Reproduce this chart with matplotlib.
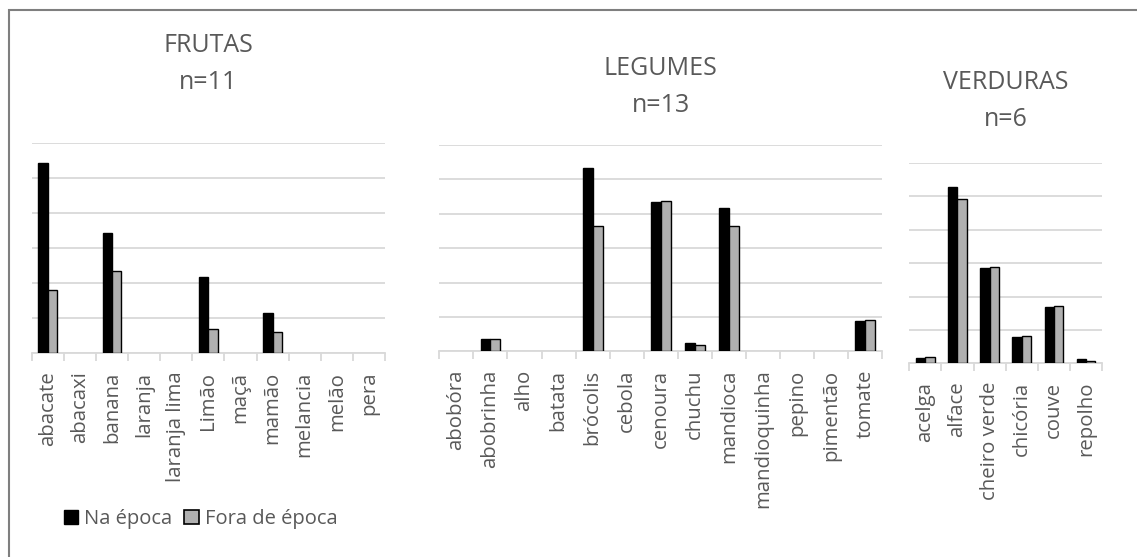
import numpy as np
import matplotlib.pyplot as plt
from matplotlib.patches import Rectangle, Patch

plt.rcParams['font.family'] = ['Open Sans', 'DejaVu Sans']

# dados (escala em % aproximada)
frutas = ["abacate", "abacaxi", "banana", "laranja", "laranja lima", "Limão",
          "maçã", "mamão", "melancia", "melão", "pera"]
frutas_na = [54.3, 0, 34.3, 0, 0, 21.7, 0, 11.5, 0, 0, 0]
frutas_fora = [18.0, 0, 23.6, 0, 0, 7.0, 0, 6.2, 0, 0, 0]

legumes = ["abobóra", "abobrinha", "alho", "batata", "brócolis", "cebola",
           "cenoura", "chuchu", "mandioca", "mandioquinha", "pepino",
           "pimentão", "tomate"]
legumes_na = [0, 3.5, 0, 0, 53.2, 0, 43.5, 2.5, 41.7, 0, 0, 0, 8.9]
legumes_fora = [0, 3.7, 0, 0, 36.3, 0, 43.7, 1.8, 36.4, 0, 0, 0, 9.1]

verduras = ["acelga", "alface", "cheiro verde", "chicória", "couve", "repolho"]
verduras_na = [1.7, 52.8, 28.6, 8.0, 16.9, 1.2]
verduras_fora = [2.0, 49.2, 28.9, 8.2, 17.1, 0.8]

TXT = "#595959"
GRID = "#D9D9D9"
GRAY = "#B0B0B0"

fig = plt.figure(figsize=(11.37, 5.57), dpi=100)

# moldura do grafico
fig.add_artist(Rectangle((9 / 1137, -0.2), 1.3, 1.2 - 10 / 557,
                         transform=fig.transFigure, fill=False,
                         edgecolor="#7F7F7F", linewidth=1.5))

# titulo, categorias, series, posicao do eixo, centro vertical do titulo (px)
paineis = [
    ("FRUTAS\nn=11", frutas, frutas_na, frutas_fora, [0.0279, 0.3657, 0.3107, 0.3776], 64),
    ("LEGUMES\nn=13", legumes, legumes_na, legumes_fora, [0.3864, 0.3693, 0.3896, 0.3704], 87),
    ("VERDURAS\nn=6", verduras, verduras_na, verduras_fora, [0.7997, 0.3477, 0.1697, 0.3596], 101),
]

w = 0.29
for titulo, cats, na, fora, pos, ty in paineis:
    ax = fig.add_axes(pos)
    x = np.arange(len(cats))
    ax.bar(x - w / 2, na, w, color="black", edgecolor="black",
           linewidth=[1 if v > 0 else 0 for v in na], zorder=3)
    ax.bar(x + w / 2, fora, w, color=GRAY, edgecolor="black",
           linewidth=[1 if v > 0 else 0 for v in fora], zorder=3)
    ax.set_xlim(-0.5, len(cats) - 0.5)
    ax.set_ylim(0, 60)
    ax.set_yticks(np.arange(0, 61, 10))
    ax.yaxis.grid(True, color=GRID, linewidth=1.3, zorder=0)
    ax.tick_params(axis="y", left=False, labelleft=False)
    ax.set_xticks(x)
    ax.set_xticklabels(cats, rotation=90, color=TXT, fontsize=14.7)
    ax.set_xticks(np.arange(-0.5, len(cats)), minor=True)
    ax.tick_params(axis="x", which="major", length=0, pad=13.2)
    ax.tick_params(axis="x", which="minor", length=5.8, color=GRID, width=1.3)
    for s in ["top", "right", "left"]:
        ax.spines[s].set_visible(False)
    ax.spines["bottom"].set_color(GRID)
    ax.spines["bottom"].set_linewidth(1.3)
    ax.set_facecolor("none")
    cx = pos[0] + pos[2] / 2
    fig.text(cx, 1 - ty / 557, titulo, ha="center", va="center", color=TXT,
             fontsize=18, linespacing=1.6, multialignment="center")

handles = [Patch(facecolor="black", edgecolor="black", label="Na época"),
           Patch(facecolor=GRAY, edgecolor="black", linewidth=1.2, label="Fora de época")]
fig.legend(handles=handles, loc="center left", bbox_to_anchor=(46 / 1137, 1 - 519 / 557),
           ncol=2, frameon=False, fontsize=14.5, handlelength=0.7, handleheight=0.7,
           handletextpad=0.3, columnspacing=0.6, labelcolor=TXT)

fig.savefig("out.png", dpi=100)
